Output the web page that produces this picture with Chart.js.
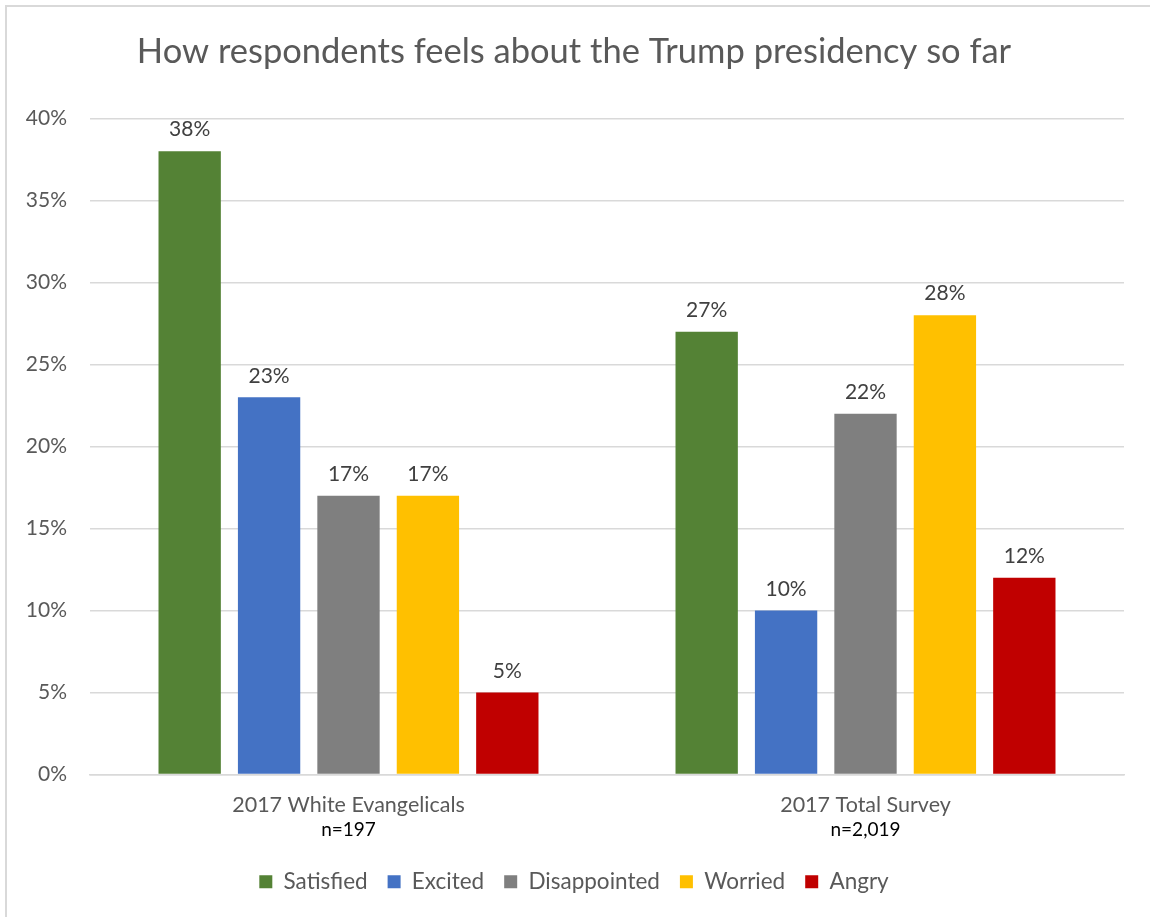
<!DOCTYPE html>
<html>
<head>
<meta charset="utf-8">
<script src="https://cdn.jsdelivr.net/npm/chart.js@4/dist/chart.umd.min.js"></script>
<style>
  html, body { margin: 0; padding: 0; background: #fff; }
  #wrap { position: relative; width: 1150px; height: 917px; }
  #frame { position: absolute; left: 5px; top: 5px; right: 0; bottom: 0; border-left: 2px solid #d9d9d9; border-top: 2px solid #d9d9d9; pointer-events: none; }
  canvas { position: absolute; left: 0; top: 0; }
</style>
</head>
<body>
<div id="wrap">
  <canvas id="c" width="1150" height="917"></canvas>
  <div id="frame"></div>
</div>
<script>
const categories = ['2017 White Evangelicals', '2017 Total Survey'];
const sampleSizes = ['n=197', 'n=2,019'];
const seriesNames = ['Satisfied', 'Excited', 'Disappointed', 'Worried', 'Angry'];
const satisfied = [38, 27];
const excited = [23, 10];
const disappointed = [17, 22];
const worried = [17, 28];
const angry = [5, 12];
const seriesColors = ['#548235', '#4472C4', '#7F7F7F', '#FFC000', '#C00000'];
const yTicks = [0, 5, 10, 15, 20, 25, 30, 35, 40];

const FONT = 'Lato, "Open Sans", sans-serif';
const seriesValues = [satisfied, excited, disappointed, worried, angry];

const dataLabelPlugin = {
  id: 'dataLabels',
  afterDatasetsDraw(chart) {
    const ctx = chart.ctx;
    ctx.save();
    ctx.font = '21px ' + FONT;
    ctx.fillStyle = '#404040';
    ctx.textAlign = 'center';
    ctx.textBaseline = 'bottom';
    chart.data.datasets.forEach((ds, i) => {
      const meta = chart.getDatasetMeta(i);
      meta.data.forEach((bar, j) => {
        ctx.fillText(ds.data[j] + '%', bar.x, bar.y - 11);
      });
    });
    ctx.restore();
  }
};

const sampleLabelPlugin = {
  id: 'sampleLabels',
  afterDraw(chart) {
    const ctx = chart.ctx;
    const x = chart.scales.x;
    ctx.save();
    ctx.font = '19px ' + FONT;
    ctx.fillStyle = '#000000';
    ctx.textAlign = 'center';
    ctx.textBaseline = 'middle';
    sampleSizes.forEach((s, i) => {
      ctx.fillText(s, x.getPixelForValue(i), 830);
    });
    ctx.restore();
  }
};

new Chart(document.getElementById('c'), {
  type: 'bar',
  data: {
    labels: categories,
    datasets: seriesNames.map((name, i) => ({
      label: name,
      data: seriesValues[i],
      backgroundColor: seriesColors[i],
      borderWidth: 0,
      categoryPercentage: 0.768,
      barPercentage: 0.785
    }))
  },
  options: {
    responsive: false,
    animation: false,
    devicePixelRatio: 1,
    layout: { padding: { left: 24, right: 26, top: 0, bottom: 14 } },
    plugins: {
      title: {
        display: true,
        text: 'How respondents feels about the Trump presidency so far',
        font: { family: FONT, size: 34.5, weight: 'normal' },
        color: '#595959',
        padding: { top: 31, bottom: 46 }
      },
      legend: {
        position: 'bottom',
        labels: {
          font: { family: FONT, size: 22.5 },
          color: '#595959',
          boxWidth: 13,
          boxHeight: 13,
          padding: 20
        }
      },
      tooltip: { enabled: false }
    },
    scales: {
      y: {
        min: 0,
        max: 40,
        afterBuildTicks(scale) { scale.ticks = yTicks.map(v => ({ value: v })); },
        afterFit(scale) { scale.width = 66; },
        ticks: {
          font: { family: FONT, size: 21 },
          color: '#595959',
          padding: 23,
          callback: v => v + '%'
        },
        grid: { color: '#d9d9d9', lineWidth: 1.5, drawTicks: false },
        border: { display: false }
      },
      x: {
        afterFit(scale) { scale.height = 76; },
        grid: { display: false, drawTicks: false },
        border: { color: '#d9d9d9', width: 1.5 },
        ticks: {
          font: { family: FONT, size: 21.5, lineHeight: 1.3 },
          color: '#595959',
          padding: 17,
          callback: (v, i) => [categories[i], ' ']
        }
      }
    }
  },
  plugins: [dataLabelPlugin, sampleLabelPlugin]
});
</script>
</body>
</html>
